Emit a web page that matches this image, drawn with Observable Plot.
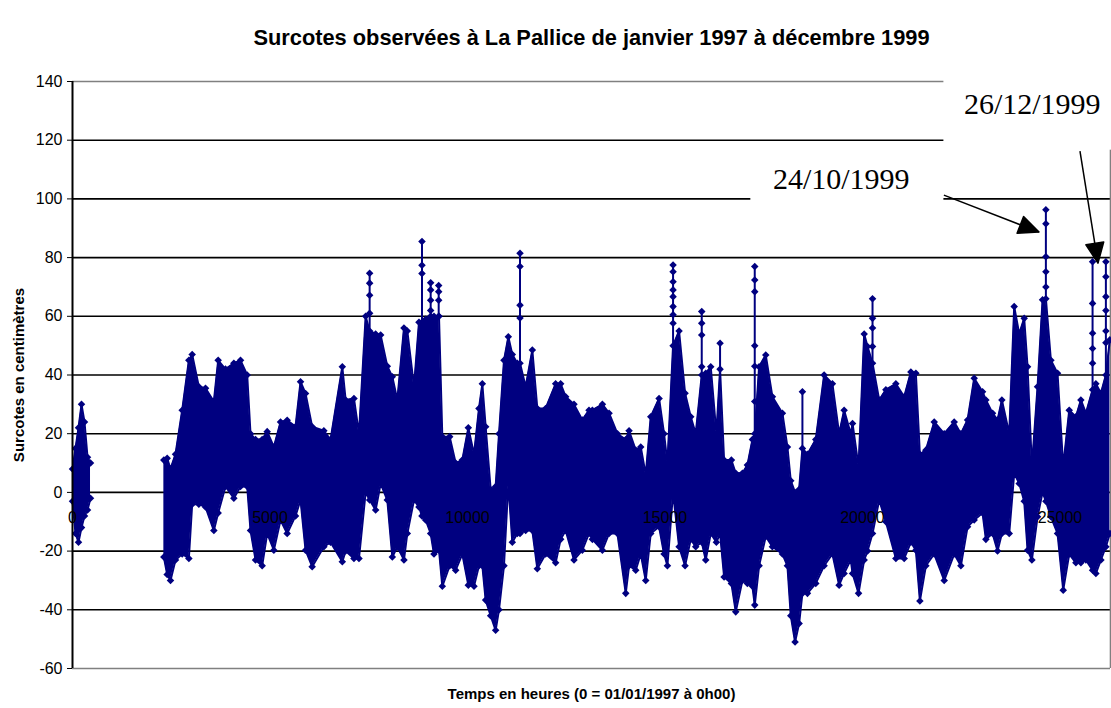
<!DOCTYPE html>
<html><head><meta charset="utf-8">
<script src="https://cdn.jsdelivr.net/npm/d3@7"></script>
<script src="https://cdn.jsdelivr.net/npm/@observablehq/plot@0.6"></script>
<style>body{margin:0;background:#fff;}#chart svg{display:block;}</style>
</head><body><div id="chart"></div>
<script>
const chartTitle = "Surcotes observées à La Pallice de janvier 1997 à décembre 1999";
const yLabel = "Surcotes en centimètres";
const xLabel = "Temps en heures (0 = 01/01/1997 à 0h00)";
const xTicks = [0, 5000, 10000, 15000, 20000, 25000];
const yTicks = [-60, -40, -20, 0, 20, 40, 60, 80, 100, 120, 140];
const xMax = 26280;

// envelope of the hourly series (hour, upper value, lower value)
const hours = [0,76,152,228,304,380,456,
 2313,2397,2481,2608,2777,2946,3030,3199,3368,3579,3688,3874,4085,4254,4423,4507,4634,4802,4929,5098,5267,5435,5646,5773,5900,6068,6364,6533,
 6831,6915,7126,7253,7422,7523,7675,7802,7970,8097,8224,8392,8477,8646,8772,8848,8941,9068,9152,9279,9363,9549,9701,9869,10021,10165,10291,10376,10460,10587,10713,10798,10924,11034,11135,11262,11330,11473,11642,11768,11979,12232,12359,12486,12697,12908,13077,
 13163,13416,13585,13796,14007,14091,14260,14387,14513,14640,14851,14977,15062,15205,15357,15509,15653,15779,15931,16032,16159,16302,16395,16497,16682,16792,16961,17087,17214,17273,17383,17552,17720,17974,18100,18185,18294,18396,18480,18607,18818,19029,19240,19409,19536,19704,
 19749,19901,20044,20129,20255,20424,20593,20846,21057,21226,21352,21454,21606,21817,22070,22323,22492,22661,22829,23040,23125,23294,23420,23530,23716,23842,23969,24095,24180,24290,24433,24560,24644,24771,24939,25083,25235,25404,25530,25657,25826,25910,26037,26163,26264];
const highs = [8,15,22,30,24,12,10,
 11,11.6,8,13,28,45,47,36,35.5,31,45,42,44,45,40,20,18,18,20.7,15.5,24,24.6,22.4,37.7,33.7,22.4,21,18,
 42.8,31.5,32,20,60,55,54,53.6,43,39.4,31.5,56,55,36,58,58,59,60,60,60,19,19,10,11,22,13,28.6,37,22.4,1,2,20,45,53,47,44,44,36,48.5,28.6,28.6,37,37,32.6,30,24.7,28,
 28,30,27,20,18,21,14.4,15.5,6,25.8,32,20,10,50,55,33.8,25.8,20,40,40.6,42.8,20,42,11,11,6.5,6.5,9.3,18,20,42.8,46.8,32.6,27,15.5,4,0,1,15,13,18,40,37,20,28,20,
 23.5,8.8,54,49.7,44,31.5,35,37,32.6,41,40.6,13,14.4,24,20,24,20,24.7,38.9,34.3,31.5,27,24.7,31.5,20,63.3,54,59.3,42.8,8.8,36,65.6,66,45,40.6,8.8,28,25.8,31.5,27,35,37,33.8,40,52];
const lows = [-3,-14,-17,-12,-8,-6,-2,
 -22,-28,-30,-23,-21,-22.5,-4,-4,-5,-13,-7,2,-2,2,2,-13,-23,-25,-14,-19.7,-9.4,-14,-8,-2.6,-19.7,-25.3,-18.5,-17,
 -23.6,-20,-22.5,-22.5,0,-2.6,-6,3,-2.6,-22,-18.5,-23,-14,-2.6,-5,-8,-9.4,-14,-21,-19.7,-32,-25,-26.5,-21,-31.6,-32,-25,-25,-36.7,-42,-47,-40,-25,3,-17,-14,-14,-13,-13,-26,-21,-24,-16,-13,-23,-19.7,-14,
 -16,-19.7,-14,-14,-34.4,-25,-26.5,-21,-30,-14,-11.7,-21,-25,0,-18.5,-25,-16,-18.5,-17,-23,-14,-17,-14,-28.8,-31,-40.7,-30,-31,-32,-38.4,-25,-15,-18.5,-21,-25,-42,-51,-44.7,-34.4,-34.4,-31,-25,-21,-31.6,-27.6,-23,
 -27.6,-34.4,-23,-20,-14,-2.6,-10,-22.5,-22.5,-17,-19.7,-37,-25,-21,-30,-21,-25,-11.7,-9.4,-7,-16,-14,-20,-14,-14,6.5,3,-3,-19.7,-23,-8.3,0,-3,-8.3,-14,-33.3,-21,-24,-24,-23,-26.5,-27.6,-23,-18.5,-14];

// isolated one- or two-hour peaks rising above the band
const spikeHours = [7523, 8848, 9068, 9271, 11330, 15205, 15931, 16395, 17273, 18480, 20255, 24644, 25826, 26163];
const spikeBases = [55, 58, 60, 60, 44, 50, 40, 42, 20, 15, 44, 66, 35, 40];
const spikeTops  = [74.7, 85.5, 71.4, 70.5, 81.5, 77.5, 61.6, 50.8, 77, 34.3, 66, 96.3, 78.6, 78.6];
const spikeDotHours  = [7523,7523,7523, 8848,8848, 9068,9068,9068, 9271,9271,9271, 11330,11330,11330, 15205,15205,15205,15205,15205,15205,15205, 15931,15931,15931, 17273,17273,17273,17273,17273, 20255,20255,20255, 24644,24644,24644,24644, 25826,25826,25826,25826, 26163,26163,26163,26163,26163];
const spikeDotValues = [71.3,67.2,61, 77.4,74.6, 69,65.5,62, 68.4,65.5,60, 77,63.8,59.4, 75.2,71.8,69,66.7,63.3,60.5,57.6, 57.6,53.6,42.8, 72.4,68.4,50,43,31, 59.3,56,49.7, 91.5,80.3,75.2,70, 64.4,54.2,49,44, 73.5,66.7,62,55,51];

// annotations
const noteLabels = ["24/10/1999", "26/12/1999"];
const noteHours  = [17733, 22569];
const noteValues = [106.7, 132.3];
const boxX1 = [17174, 22062], boxX2 = [22062, 26400], boxY1 = [94.5, 116.6], boxY2 = [116, 150];
const arrowX1 = [22062, 25507], arrowY1 = [101.3, 116.3], arrowX2 = [24469, 25963], arrowY2 = [88.7, 78.1];

const W = 1111, H = 708, mL = 72, mR = 1, mT = 81, mB = 40;
const navy = "#000080";
const pxPerHour = (W - mL - mR) / xMax, pxPerUnit = (H - mT - mB) / 200;

const rows = hours.map((h, i) => ({h, hi: highs[i], lo: lows[i], seg: h < 1500 ? 0 : 1}));
const spikes = spikeHours.map((h, i) => ({h, b: spikeBases[i], t: spikeTops[i]}));
const spikeDots = spikeDotHours.map((h, i) => ({h, v: spikeDotValues[i]}));
const notes = noteLabels.map((t, i) => ({t, x: noteHours[i], y: noteValues[i]}));
const boxes = boxX1.map((x, i) => ({x1: x, x2: boxX2[i], y1: boxY1[i], y2: boxY2[i]}));
const arrows = arrowX1.map((x, i) => {
  const dx = (arrowX2[i] - x) * pxPerHour, dy = -(arrowY2[i] - arrowY1[i]) * pxPerUnit;
  return {x1: x, y1: arrowY1[i], x2: arrowX2[i], y2: arrowY2[i], angle: Math.atan2(dx, -dy) * 180 / Math.PI};
});
const head = {draw(ctx, l) { ctx.moveTo(0, -l); ctx.lineTo(-9, 0); ctx.lineTo(9, 0); ctx.closePath(); }};

const plot = Plot.plot({
  width: W, height: H, marginLeft: mL, marginRight: mR, marginTop: mT, marginBottom: mB,
  style: {fontFamily: "'Liberation Sans', Arial, sans-serif", fontSize: "16px", background: "#fff", color: "#000", overflow: "visible"},
  x: {domain: [0, xMax], axis: null},
  y: {domain: [-60, 140], ticks: yTicks, tickSize: 5, tickPadding: 5, tickFormat: d => String(d), label: null},
  marks: [
    Plot.ruleY(yTicks.filter(v => v > -60 && v < 140), {stroke: "#000", strokeWidth: 1.6}),
    Plot.ruleY([140, -60], {stroke: "#808080", strokeWidth: 1.6}),
    Plot.ruleX([xMax], {y1: -60, y2: 140, stroke: "#808080", strokeWidth: 1.6}),
    Plot.areaY(rows, {x: "h", y1: "lo", y2: "hi", z: "seg", fill: navy, curve: "linear"}),
    Plot.line(rows, {x: "h", y: "hi", z: "seg", stroke: navy, strokeWidth: 2}),
    Plot.line(rows, {x: "h", y: "lo", z: "seg", stroke: navy, strokeWidth: 2}),
    Plot.ruleX(spikes, {x: "h", y1: "b", y2: "t", stroke: navy, strokeWidth: 2}),
    Plot.dot(rows, {x: "h", y: "hi", symbol: "diamond2", r: 3.4, fill: navy, stroke: "none"}),
    Plot.dot(rows, {x: "h", y: "lo", symbol: "diamond2", r: 3.4, fill: navy, stroke: "none"}),
    Plot.dot(spikes, {x: "h", y: "t", symbol: "diamond2", r: 3.4, fill: navy, stroke: "none"}),
    Plot.dot(spikeDots, {x: "h", y: "v", symbol: "diamond2", r: 3.4, fill: navy, stroke: "none"}),
    Plot.ruleX([0], {y1: -60, y2: 140, stroke: "#000", strokeWidth: 2}),
    Plot.text(xTicks, {x: d => d, y: 0, dy: 25, text: d => String(d), fontSize: 16, fill: "#000"}),
    Plot.rect(boxes, {x1: "x1", x2: "x2", y1: "y1", y2: "y2", fill: "#fff"}),
    Plot.text(notes, {x: "x", y: "y", text: "t", textAnchor: "start", fontFamily: "'Liberation Serif', 'Times New Roman', serif", fontSize: 30, fill: "#000"}),
    Plot.link(arrows, {x1: "x1", y1: "y1", x2: "x2", y2: "y2", stroke: "#000", strokeWidth: 1.5}),
    Plot.vector(arrows, {x: "x2", y: "y2", rotate: "angle", length: 20, anchor: "end", shape: head, fill: "#000", stroke: "#000"}),
    Plot.text([chartTitle], {frameAnchor: "top", dy: -52, fontSize: 21.8, fontWeight: "bold", fill: "#000"}),
    Plot.text([yLabel], {frameAnchor: "left", textAnchor: "middle", dx: -53, rotate: -90, fontSize: 15, fontWeight: "bold", fill: "#000"}),
    Plot.text([xLabel], {frameAnchor: "bottom", textAnchor: "middle", dy: 30, fontSize: 15, fontWeight: "bold", fill: "#000"})
  ]
});
document.getElementById("chart").appendChild(plot);
</script>
</body></html>
